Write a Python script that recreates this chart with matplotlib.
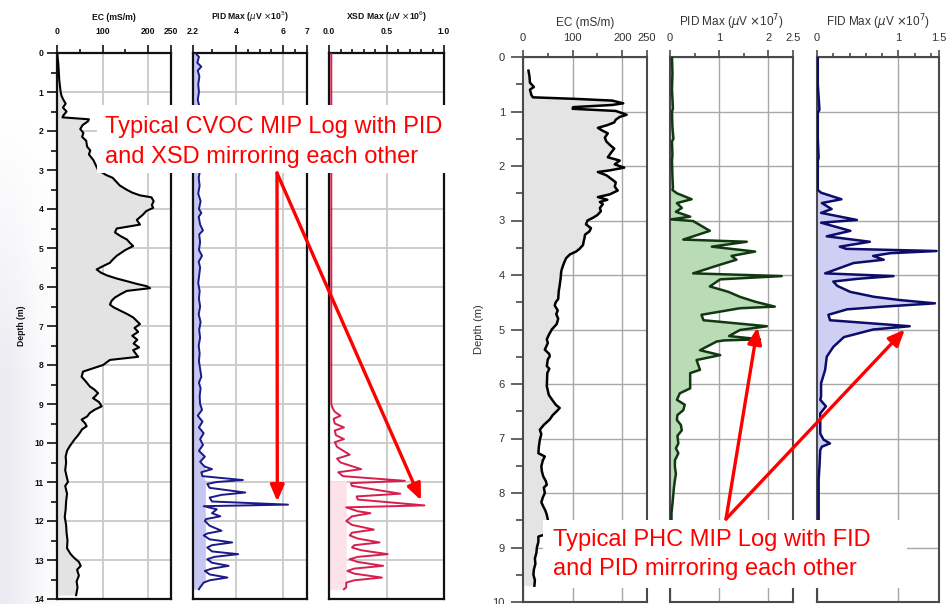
import numpy as np
import matplotlib
matplotlib.use("Agg")
import matplotlib.pyplot as plt
from matplotlib.patches import Rectangle

plt.rcParams["font.family"] = ["Liberation Sans", "DejaVu Sans"]

W, H = 951, 604

# ---- CVOC log (left) ----
ec_l_depth = [0.05, 0.3, 0.5, 0.7, 0.9, 1.0, 1.1, 1.2, 1.3, 1.4, 1.5, 1.6, 1.65, 1.7, 1.75, 1.85, 1.95,
              2.05, 2.15, 2.25, 2.4, 2.5, 2.6, 2.75, 2.9, 3.0, 3.13, 3.2, 3.3, 3.4, 3.5, 3.58, 3.65, 3.7,
              3.8, 3.9, 3.97, 4.05, 4.15, 4.28, 4.4, 4.5, 4.6, 4.7, 4.78, 4.87, 4.95, 5.05, 5.2, 5.3,
              5.38, 5.47, 5.55, 5.63, 5.7, 5.78, 5.85, 5.92, 5.98, 6.03, 6.1, 6.18, 6.27, 6.35, 6.45,
              6.52, 6.6, 6.7, 6.78, 6.87, 6.95, 7.05, 7.15, 7.25, 7.35, 7.45, 7.55, 7.62, 7.7, 7.79,
              7.87, 7.94, 8.0, 8.08, 8.17, 8.3, 8.42, 8.55, 8.63, 8.72, 8.8, 8.85, 8.95, 9.06, 9.15,
              9.23, 9.32, 9.4, 9.5, 9.57, 9.65, 9.74, 9.82, 9.9, 10.0, 10.08, 10.2, 10.35, 10.5, 10.7,
              10.9, 11.0, 11.1, 11.3, 11.5, 11.7, 11.9, 12.1, 12.3, 12.5, 12.7, 12.85, 12.95, 13.05,
              13.15, 13.25, 13.4, 13.55, 13.7, 13.9]
ec_l = [1, 3, 4, 5, 7, 8, 10, 14, 19, 13, 21, 14, 12, 70, 68, 56, 51,
        58, 55, 64, 66, 73, 70, 80, 86, 90, 108, 122, 130, 138, 152, 165, 182, 207,
        212, 208, 211, 196, 188, 175, 182, 131, 127, 140, 153, 160, 167, 150, 131, 122,
        116, 100, 87, 96, 109, 130, 153, 175, 197, 204, 153, 140, 127, 120, 116,
        124, 138, 155, 167, 175, 182, 170, 178, 165, 176, 168, 180, 167, 172, 178,
        116, 108, 101, 80, 57, 54, 63, 72, 82, 90, 84, 79, 92, 98, 82,
        72, 66, 54, 62, 65, 55, 50, 45, 39, 33, 28, 22, 19, 20, 18,
        22, 24, 18, 22, 20, 19, 17, 20, 21, 23, 22, 30, 38, 48,
        52, 44, 48, 43, 45, 42]

pid_l_depth = [0.0, 0.1, 0.25, 0.35, 0.45, 0.6, 0.8, 1.0, 1.2, 1.4, 1.6, 1.8, 2.0, 2.2, 2.4, 2.6, 2.8,
               3.0, 3.2, 3.4, 3.6, 3.8, 4.0, 4.1, 4.2, 4.4, 4.55, 4.65, 4.85, 5.05, 5.2, 5.35, 5.5,
               5.7, 5.9, 6.1, 6.3, 6.5, 6.7, 6.9, 7.1, 7.3, 7.5, 7.7, 7.9, 8.1, 8.3, 8.45, 8.6, 8.8,
               9.0, 9.15, 9.3, 9.45, 9.6, 9.75, 9.9, 10.05, 10.2, 10.35, 10.48, 10.6, 10.67, 10.75,
               10.85, 10.95, 11.0, 11.05, 11.15, 11.27, 11.33, 11.4, 11.5, 11.58, 11.62, 11.7, 11.8,
               11.88, 11.95, 12.0, 12.12, 12.25, 12.32, 12.37, 12.47, 12.55, 12.62, 12.68, 12.78,
               12.85, 12.92, 12.98, 13.07, 13.15, 13.22, 13.28, 13.37, 13.45, 13.52, 13.58, 13.7, 13.75]
pid_l = [2.3, 2.45, 2.38, 2.55, 2.4, 2.47, 2.42, 2.45, 2.4, 2.48, 2.42, 2.5, 2.45, 2.5, 2.46, 2.52, 2.45,
         2.5, 2.44, 2.48, 2.42, 2.52, 2.45, 2.55, 2.44, 2.5, 2.62, 2.46, 2.5, 2.45, 2.58, 2.44, 2.5,
         2.46, 2.42, 2.48, 2.45, 2.5, 2.44, 2.52, 2.46, 2.5, 2.44, 2.48, 2.45, 2.5, 2.55, 2.45, 2.52, 2.48,
         2.5, 2.58, 2.4, 2.6, 2.45, 2.65, 2.5, 2.62, 2.45, 2.7, 2.5, 2.68, 3.0, 2.55,
         2.6, 4.3, 3.2, 2.8, 2.9, 4.4, 3.4, 2.9, 3.0, 6.2, 2.65, 3.2, 3.0,
         3.35, 2.75, 2.7, 2.9, 3.4, 2.8, 2.65, 2.9, 3.85, 3.0, 2.8, 3.0,
         4.1, 3.1, 2.8, 3.0, 3.7, 3.0, 2.7, 2.9, 3.65, 2.9, 2.65, 2.5, 2.45]

xsd_depth = [0.0, 9.0, 9.1, 9.2, 9.3, 9.38, 9.5, 9.6, 9.68, 9.8, 9.9, 9.98, 10.1, 10.3, 10.4, 10.5,
             10.67, 10.75, 10.85, 10.97, 11.03, 11.1, 11.3, 11.37, 11.45, 11.6, 11.65, 11.75, 11.8,
             11.88, 12.0, 12.1, 12.22, 12.3, 12.37, 12.45, 12.55, 12.62, 12.68, 12.75, 12.85, 12.92,
             12.98, 13.05, 13.15, 13.22, 13.28, 13.35, 13.45, 13.52, 13.58, 13.7, 13.75]
xsd = [0.02, 0.02, 0.03, 0.05, 0.1, 0.04, 0.05, 0.13, 0.05, 0.06, 0.13, 0.05, 0.07, 0.18, 0.07, 0.1,
       0.28, 0.08, 0.12, 0.66, 0.19, 0.2, 0.62, 0.24, 0.25, 0.83, 0.15, 0.25, 0.36,
       0.2, 0.15, 0.2, 0.39, 0.2, 0.18, 0.25, 0.44, 0.22, 0.2, 0.28, 0.51, 0.25,
       0.18, 0.25, 0.47, 0.22, 0.16, 0.22, 0.46, 0.22, 0.15, 0.15, 0.13]

# ---- PHC log (right) ----
ec_r_depth = [0.25, 0.35, 0.47, 0.55, 0.6, 0.7, 0.74, 0.77, 0.8, 0.85, 0.88, 0.92, 0.95, 0.99, 1.06,
              1.1, 1.15, 1.2, 1.25, 1.3, 1.35, 1.4, 1.48, 1.55, 1.62, 1.68, 1.75, 1.84, 1.9, 1.97,
              2.03, 2.08, 2.11, 2.17, 2.25, 2.3, 2.38, 2.45, 2.52, 2.57, 2.62, 2.66, 2.7, 2.77, 2.83,
              2.9, 2.95, 3.0, 3.07, 3.14, 3.2, 3.26, 3.32, 3.4, 3.45, 3.52, 3.57, 3.62, 3.69, 3.75,
              3.82, 3.9, 3.94, 4.05, 4.19, 4.3, 4.44, 4.5, 4.56, 4.65, 4.72, 4.8, 4.9, 5.0, 5.1, 5.18,
              5.25, 5.37, 5.45, 5.49, 5.55, 5.67, 5.72, 5.8, 6.04, 6.2, 6.28, 6.38, 6.44, 6.5, 6.57,
              6.65, 6.75, 6.84, 6.92, 7.02, 7.15, 7.27, 7.33, 7.4, 7.51, 7.6, 7.7, 7.78, 7.85, 7.9,
              8.0, 8.08, 8.17, 8.25, 8.32, 8.4, 8.53, 8.65, 8.75, 8.8, 8.9, 9.0, 9.1, 9.2, 9.3, 9.4,
              9.5, 9.6, 9.7]
ec_r = [11, 13, 14, 22, 14, 17, 20, 110, 180, 202, 180, 101, 100, 187, 209,
        195, 187, 184, 170, 151, 160, 171, 165, 168, 176, 184, 178, 171, 195, 185,
        204, 175, 151, 168, 180, 187, 185, 191, 175, 151, 170, 155, 161, 155, 157,
        150, 141, 130, 127, 137, 134, 125, 124, 122, 121, 114, 107, 95, 87, 84,
        81, 78, 77, 76, 74, 72, 71, 66, 64, 70, 67, 71, 68, 58, 52, 48,
        50, 44, 53, 54, 50, 48, 53, 49, 48, 52, 58, 66, 74, 68, 60,
        54, 42, 34, 37, 34, 32, 31, 44, 40, 37, 38, 41, 46, 48, 42,
        44, 40, 37, 41, 45, 48, 51, 49, 48, 31, 31, 28, 27, 24, 25, 22,
        21, 24, 23]

pid_r_depth = [0.0, 0.3, 0.6, 0.95, 1.0, 1.3, 1.5, 1.55, 1.8, 1.9, 2.2, 2.4, 2.44, 2.5, 2.61, 2.68,
               2.77, 2.84, 2.93, 2.98, 3.01, 3.19, 3.35, 3.39, 3.48, 3.57, 3.65, 3.72, 3.81, 3.97,
               4.02, 4.08, 4.21, 4.31, 4.4, 4.49, 4.58, 4.61, 4.73, 4.83, 4.94, 5.01, 5.12, 5.18,
               5.2, 5.22, 5.38, 5.47, 5.56, 5.74, 5.8, 5.99, 6.08, 6.17, 6.29, 6.38, 6.48, 6.57,
               6.66, 6.75, 6.85, 6.95, 7.09, 7.18, 7.27, 7.4, 7.52, 7.65, 7.76, 7.9, 8.0, 8.2, 8.37,
               8.6, 9.0, 9.4, 9.7]
pid_r = [0.04, 0.05, 0.04, 0.06, 0.04, 0.05, 0.07, 0.04, 0.05, 0.04, 0.05, 0.06, 0.05, 0.14, 0.44, 0.14,
         0.24, 0.12, 0.41, 0.02, 0.47, 0.81, 0.27, 1.56, 0.85, 1.73, 1.25, 1.35, 1.02, 0.47,
         2.27, 1.02, 0.81, 1.19, 1.42, 1.73, 2.13, 1.42, 0.64, 0.68, 1.97, 1.42, 1.2, 1.83,
         1.1, 0.95, 0.61, 1.02, 0.54, 0.61, 0.41, 0.41, 0.41, 0.2, 0.14, 0.3, 0.27, 0.15,
         0.14, 0.22, 0.24, 0.15, 0.17, 0.12, 0.17, 0.1, 0.1, 0.12, 0.1, 0.08, 0.07, 0.05, 0.03,
         0.03, 0.02, 0.02, 0.02]

fid_depth = [0.0, 0.5, 0.97, 1.02, 1.5, 1.85, 1.9, 2.44, 2.49, 2.61, 2.68, 2.79, 2.86, 2.99, 3.04,
             3.19, 3.29, 3.39, 3.48, 3.52, 3.56, 3.6, 3.65, 3.72, 3.78, 3.97, 4.02, 4.07, 4.12, 4.2,
             4.31, 4.4, 4.46, 4.52, 4.58, 4.63, 4.73, 4.83, 4.94, 5.0, 5.14, 5.32, 5.5, 5.74, 5.99,
             6.23, 6.29, 6.41, 6.54, 6.91, 7.02, 7.09, 7.15, 7.21, 7.52, 7.76, 8.37, 9.0, 9.7]
fid = [0.01, 0.01, 0.03, 0.01, 0.01, 0.02, 0.01, 0.01, 0.05, 0.3, 0.06, 0.18, 0.05, 0.49, 0.05,
       0.41, 0.12, 0.65, 0.28, 0.36, 1.47, 0.9, 0.69, 0.82, 0.45, 0.1, 0.94, 0.5, 0.2, 0.25,
       0.41, 0.7, 1.02, 1.45, 0.82, 0.37, 0.14, 0.16, 1.14, 0.69, 0.33, 0.2, 0.12, 0.1, 0.05,
       0.05, 0.04, 0.11, 0.04, 0.04, 0.08, 0.16, 0.06, 0.04, 0.03, 0.02, 0.02, 0.02, 0.02]

cvoc_note = ["Typical CVOC MIP Log with PID", "and XSD mirroring each other"]
phc_note = ["Typical PHC MIP Log with FID", "and PID mirroring each other"]


def rect(x0, x1, y0, y1):
    return [x0 / W, 1 - y1 / H, (x1 - x0) / W, (y1 - y0) / H]


def setup(ax, xlim, major, labels, minor, ylim, title, style):
    ax.set_xlim(*xlim)
    ax.set_ylim(ylim, 0)
    ax.xaxis.tick_top()
    ax.xaxis.set_label_position("top")
    ax.set_xticks(major)
    ax.set_xticklabels(labels)
    ax.set_xticks(minor, minor=True)
    ax.set_yticks(range(0, int(ylim) + 1))
    ax.set_yticks(np.arange(0.5, ylim, 1.0), minor=True)
    ax.grid(True, which="major", color=style["grid"], lw=style["grid_lw"], zorder=0)
    ax.set_axisbelow(True)
    for s in ax.spines.values():
        s.set_color(style["spine"])
        s.set_linewidth(style["spine_lw"])
    ax.tick_params(axis="x", which="major", direction="out", length=style["xmaj"],
                   width=1.2, pad=style["xpad"], labelsize=style["fs"], colors=style["spine"],
                   labelcolor=style["txt"])
    ax.tick_params(axis="x", which="minor", direction="out", length=style["xmin"], width=1.2,
                   colors=style["spine"])
    ax.tick_params(axis="y", which="major", direction="out", length=style["ymaj"], width=1.2,
                   pad=style["ypad"], labelsize=style["fs"], colors=style["spine"],
                   labelcolor=style["txt"])
    ax.tick_params(axis="y", which="minor", direction="out", length=style["ymin"], width=1.2,
                   colors=style["spine"])
    ax.set_xlabel(title, fontsize=style["tfs"], labelpad=style["tpad"], color=style["txt"],
                  fontweight=style["weight"])
    for t in ax.get_xticklabels() + ax.get_yticklabels():
        t.set_fontweight(style["weight"])


left_style = dict(grid="#cdcdcd", grid_lw=1.4, spine="#111111", spine_lw=1.6, xmaj=6, xmin=3,
                  ymaj=7, ymin=4.5, xpad=6.5, ypad=2.5, fs=6.2, tfs=6.2, tpad=5, txt="#111111",
                  weight="bold")
right_style = dict(grid="#a8a8a8", grid_lw=1.0, spine="#4a4a4a", spine_lw=1.5, xmaj=5, xmin=3,
                   ymaj=9, ymin=5, xpad=5, ypad=4, fs=8, tfs=8.5, tpad=5, txt="#333333",
                   weight="normal")

fig = plt.figure(figsize=(W / 100, H / 100), dpi=100)
fig.patch.set_facecolor("white")

# soft grey-violet smudge along the left margin of the slide
bg = fig.add_axes([0, 0, 1, 1], zorder=-5)
bg.axis("off")
yy, xx = np.mgrid[0:H, 0:W]
haze = np.exp(-((xx / 38.0) ** 2)) * np.clip((yy - 120) / 260.0, 0, 1) * 0.32
rgba = np.zeros((H, W, 4))
rgba[..., 0] = 0.78
rgba[..., 1] = 0.76
rgba[..., 2] = 0.84
rgba[..., 3] = haze
bg.imshow(rgba, extent=(0, W, H, 0), aspect="auto", interpolation="bilinear")
bg.set_xlim(0, W)
bg.set_ylim(H, 0)

# left group
ax1 = fig.add_axes(rect(57, 171, 53, 599))
ax2 = fig.add_axes(rect(193, 307, 53, 599))
ax3 = fig.add_axes(rect(329, 444, 53, 599))
setup(ax1, (0, 250), [0, 100, 200, 250], ["0", "100", "200", "250"], [50, 150], 14,
      "EC (mS/m)", left_style)
setup(ax2, (2.2, 7), [2.2, 4, 6, 7], ["2.2", "4", "6", "7"], [3, 4.5, 5, 5.5, 6.5], 14,
      r"PID Max ($\mu$V $\times$10$^5$)", left_style)
setup(ax3, (0, 1), [0, 0.5, 1.0], ["0.0", "0.5", "1.0"], np.arange(0.1, 1.0, 0.1), 14,
      r"XSD Max ($\mu$V $\times$10$^6$)", left_style)
ax1.set_ylabel("Depth (m)", fontsize=6.2, fontweight="bold", labelpad=6, color="#111111")
for a in (ax2, ax3):
    a.tick_params(axis="y", which="both", left=False, labelleft=False)

ax1.fill_betweenx(ec_l_depth, 0, ec_l, color="#e3e3e3", lw=0, zorder=1)
ax1.plot(ec_l, ec_l_depth, color="black", lw=1.5, zorder=3)
pid_l_arr = np.array(pid_l)
ax2.fill_betweenx(pid_l_depth, 2.2, np.minimum(pid_l_arr, 2.72), color="#c6c6f2", lw=0, zorder=1)
ax2.plot(pid_l, pid_l_depth, color="#1a1a8a", lw=1.4, zorder=3)
xsd_arr = np.array(xsd)
xsd_d = np.array(xsd_depth)
ax3.fill_betweenx(xsd_d, 0, np.minimum(xsd_arr, 0.15), where=xsd_d >= 10.9,
                  color="#fde3e9", lw=0, zorder=1)
ax3.plot(xsd, xsd_depth, color="#d81e4c", lw=1.4, zorder=3)

# right group
ax4 = fig.add_axes(rect(523, 647, 57, 602))
ax5 = fig.add_axes(rect(670, 793, 57, 602))
ax6 = fig.add_axes(rect(817, 939, 57, 602))
setup(ax4, (0, 250), [0, 100, 200, 250], ["0", "100", "200", "250"], [50, 150], 10,
      "EC (mS/m)", right_style)
setup(ax5, (0, 2.5), [0, 1, 2, 2.5], ["0", "1", "2", "2.5"], [0.5, 1.5], 10,
      r"PID Max ($\mu$V $\times$10$^7$)", right_style)
setup(ax6, (0, 1.5), [0, 1, 1.5], ["0", "1", "1.5"], [0.2, 0.4, 0.6, 0.8, 1.2, 1.4], 10,
      r"FID Max ($\mu$V $\times$10$^7$)", right_style)
ax4.set_ylabel("Depth (m)", fontsize=8, labelpad=6, color="#333333")
for a in (ax5, ax6):
    a.tick_params(axis="y", which="both", left=False, labelleft=False)

ax4.fill_betweenx(ec_r_depth, 0, ec_r, color="#e4e4e4", lw=0, zorder=1)
ax4.plot(ec_r, ec_r_depth, color="black", lw=1.8, zorder=3)
ax5.fill_betweenx(pid_r_depth, 0, pid_r, color="#b9dcb6", lw=0, zorder=1)
ax5.plot(pid_r, pid_r_depth, color="#123812", lw=1.8, zorder=3)
ax6.fill_betweenx(fid_depth, 0, fid, color="#cfcff4", lw=0, zorder=1)
ax6.plot(fid, fid_depth, color="#0c0c6a", lw=1.8, zorder=3)

# callouts drawn in pixel space over the panels
ov = fig.add_axes([0, 0, 1, 1], zorder=10)
ov.set_xlim(0, W)
ov.set_ylim(H, 0)
ov.axis("off")
ov.patch.set_alpha(0)


def to_px(ax, x, y):
    return ov.transData.inverted().transform(ax.transData.transform((x, y)))


red = "#ff0000"
ov.add_patch(Rectangle((97, 105), 356, 68, facecolor="white", edgecolor="none"))
for line, y in zip(cvoc_note, (127, 157)):
    ov.text(105, y, line, color=red, fontsize=17, ha="left", va="center")
ov.add_patch(Rectangle((543, 520), 364, 68, facecolor="white", edgecolor="none"))
for line, y in zip(phc_note, (540, 569)):
    ov.text(553, y, line, color=red, fontsize=17, ha="left", va="center")

arrow_kw = dict(arrowstyle="-|>,head_length=0.7,head_width=0.3", color=red, lw=2.4,
                mutation_scale=14, shrinkA=0, shrinkB=0)
for ax, x, y, start in [(ax2, 5.75, 11.5, (277, 173)), (ax3, 0.8, 11.47, (277, 173)),
                        (ax5, 1.78, 4.96, (726, 519)), (ax6, 1.08, 5.0, (726, 519))]:
    tip = to_px(ax, x, y)
    ov.annotate("", xy=tip, xytext=start, arrowprops=arrow_kw)

fig.savefig("out.png", dpi=100)
